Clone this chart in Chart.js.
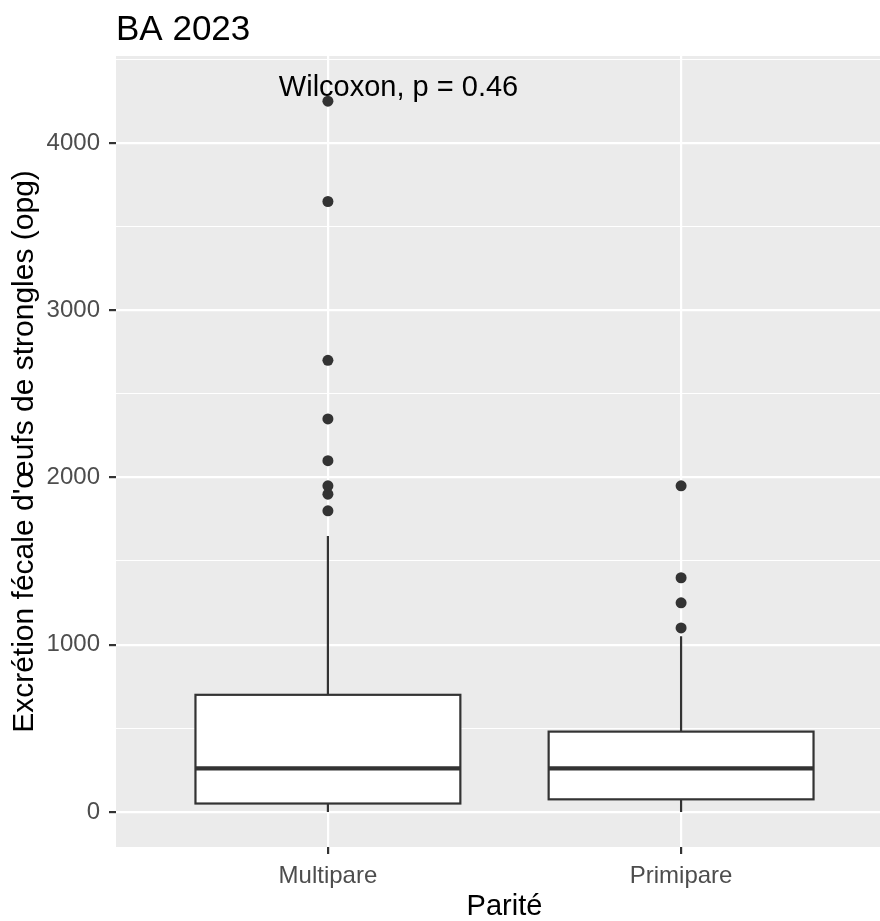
<!DOCTYPE html>
<html><head><meta charset="utf-8">
<script src="https://cdn.jsdelivr.net/npm/chart.js@4"></script>
<style>
html,body{margin:0;padding:0;background:#fff;overflow:hidden}
#wrap{width:880px;height:921px;overflow:hidden;position:relative}
canvas{display:block}
</style>
</head><body><div id="wrap"><canvas id="c" width="900" height="921"></canvas></div>
<script>
// ---- data ----
const categories = ['Multipare', 'Primipare'];
const whiskerLow = [0, 0];
const q1 = [50, 75];
const median = [260, 260];
const q3 = [700, 480];
const whiskerHigh = [1650, 1050];
const outliersMultipare = [4250, 3650, 2700, 2350, 2100, 1950, 1900, 1800];
const outliersPrimipare = [1950, 1400, 1250, 1100];
const yMajorTicks = [0, 1000, 2000, 3000, 4000];
const yMinorTicks = [500, 1500, 2500, 3500, 4500];
const titleText = 'BA 2023';
const testLabel = 'Wilcoxon, p = 0.46';
const xTitle = 'Parité';
const yTitle = "Excrétion fécale d'œufs de strongles (opg)";

const FONT = "'Liberation Sans', Arial, sans-serif";
const DARK = '#333333';

const ggPlugin = {
  id: 'gg',
  beforeDraw(chart) {
    const {ctx, chartArea: a} = chart;
    ctx.save();
    ctx.fillStyle = '#EBEBEB';
    ctx.fillRect(a.left, a.top, a.right - a.left, a.bottom - a.top);
    ctx.restore();
  },
  beforeDatasetsDraw(chart) {
    const ctx = chart.ctx, xs = chart.scales.x, ys = chart.scales.y;
    ctx.save();
    ctx.strokeStyle = DARK;
    categories.forEach((c, i) => {
      const xc = xs.getPixelForValue(i + 1);
      const xl = xs.getPixelForValue(i + 1 - 0.375);
      const xr = xs.getPixelForValue(i + 1 + 0.375);
      ctx.lineWidth = 2.2;
      ctx.beginPath();
      ctx.moveTo(xc, ys.getPixelForValue(whiskerLow[i]));
      ctx.lineTo(xc, ys.getPixelForValue(q1[i]));
      ctx.moveTo(xc, ys.getPixelForValue(q3[i]));
      ctx.lineTo(xc, ys.getPixelForValue(whiskerHigh[i]));
      ctx.stroke();
      const yt = ys.getPixelForValue(q3[i]), yb = ys.getPixelForValue(q1[i]);
      ctx.fillStyle = '#FFFFFF';
      ctx.fillRect(xl, yt, xr - xl, yb - yt);
      ctx.strokeRect(xl, yt, xr - xl, yb - yt);
      ctx.lineWidth = 4.2;
      ctx.beginPath();
      const ym = ys.getPixelForValue(median[i]);
      ctx.moveTo(xl, ym);
      ctx.lineTo(xr, ym);
      ctx.stroke();
    });
    ctx.restore();
  },
  afterDraw(chart) {
    const ctx = chart.ctx, xs = chart.scales.x, ys = chart.scales.y;
    ctx.save();
    ctx.fillStyle = '#000000';
    ctx.font = '29px ' + FONT;
    ctx.textAlign = 'center';
    ctx.textBaseline = 'middle';
    ctx.fillText(testLabel, xs.getPixelForValue(1.2), ys.getPixelForValue(4330));
    ctx.font = '35px ' + FONT;
    ctx.textAlign = 'left';
    ctx.textBaseline = 'alphabetic';
    ctx.fillText(titleText, chart.chartArea.left, 40);
    ctx.restore();
  }
};

const majorSet = new Set(yMajorTicks);

new Chart(document.getElementById('c'), {
  type: 'scatter',
  data: {
    datasets: [
      {data: outliersMultipare.map(v => ({x: 1, y: v}))},
      {data: outliersPrimipare.map(v => ({x: 2, y: v}))}
    ]
  },
  options: {
    responsive: false,
    animation: false,
    events: [],
    layout: {padding: {top: 56, right: 7, left: 0, bottom: 0}},
    elements: {point: {radius: 5.5, backgroundColor: DARK, borderWidth: 0, pointStyle: 'circle'}},
    plugins: {legend: {display: false}, tooltip: {enabled: false}, title: {display: false}},
    scales: {
      x: {
        type: 'linear', min: 0.4, max: 2.6,
        afterBuildTicks: s => { s.ticks = categories.map((c, i) => ({value: i + 1})); },
        afterFit: s => { s.height = 74; },
        ticks: {
          callback: (v, i) => categories[i],
          font: {family: FONT, size: 24}, color: '#4D4D4D', padding: 8, maxRotation: 0, autoSkip: false
        },
        grid: {color: '#FFFFFF', lineWidth: 2.2, tickColor: DARK, tickLength: 7, tickWidth: 2.2},
        border: {display: false},
        title: {display: true, text: xTitle, color: '#000000',
          font: {family: FONT, size: 29, lineHeight: 1.0}, padding: {top: 0, bottom: 0}}
      },
      y: {
        type: 'linear', min: -210, max: 4520,
        afterBuildTicks: s => { s.ticks = yMajorTicks.concat(yMinorTicks).sort((a, b) => a - b).map(v => ({value: v})); },
        afterFit: s => { s.width = 116; },
        ticks: {
          callback: v => majorSet.has(v) ? String(v) : '',
          font: {family: FONT, size: 24}, color: '#4D4D4D', padding: 9, autoSkip: false
        },
        grid: {
          color: '#FFFFFF',
          lineWidth: c => majorSet.has(c.tick.value) ? 2.2 : 1.1,
          tickColor: c => majorSet.has(c.tick.value) ? DARK : 'rgba(0,0,0,0)',
          tickLength: 7, tickWidth: 2.2
        },
        border: {display: false},
        title: {display: true, text: yTitle, color: '#000000',
          font: {family: FONT, size: 30, lineHeight: 1.0}, padding: {top: 10, bottom: 0}}
      }
    }
  },
  plugins: [ggPlugin]
});
</script>
</body></html>
